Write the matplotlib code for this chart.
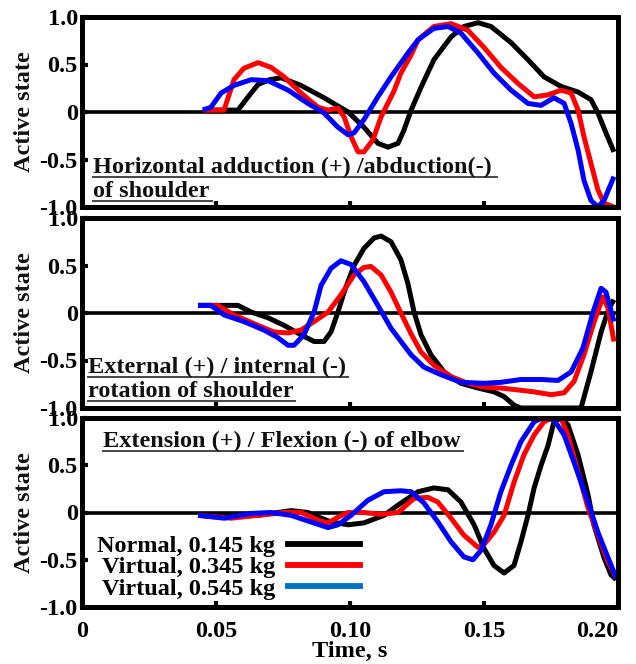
import matplotlib

matplotlib.use("Agg")
import matplotlib.pyplot as plt
from matplotlib.lines import Line2D

# ---- data (time in s, active state) ----
# shoulder horizontal adduction / abduction
hor_t_normal = [0.0451, 0.0582, 0.0620, 0.0657, 0.0700, 0.0743, 0.0817, 0.0903, 0.0993, 0.1052,
                0.1104, 0.1142, 0.1179, 0.1200, 0.1228, 0.1265, 0.1313, 0.1377, 0.1425, 0.1478,
                0.1526, 0.1601, 0.1664, 0.1724, 0.1787, 0.1851, 0.1899, 0.1925, 0.1955, 0.1985]
hor_v_normal = [0.02, 0.02, 0.16, 0.29, 0.34, 0.36, 0.28, 0.15, 0.0, -0.16,
                -0.33, -0.37, -0.33, -0.20, 0.02, 0.26, 0.55, 0.79, 0.90, 0.94,
                0.90, 0.73, 0.55, 0.37, 0.27, 0.21, 0.13, -0.01, -0.22, -0.42]
hor_t_v345 = [0.0451, 0.0530, 0.0567, 0.0604, 0.0657, 0.0705, 0.0754, 0.0817, 0.0881, 0.0918,
              0.0955, 0.0978, 0.1004, 0.1030, 0.1052, 0.1086, 0.1116, 0.1164, 0.1190, 0.1228,
              0.1254, 0.1313, 0.1377, 0.1440, 0.1500, 0.1563, 0.1627, 0.1687, 0.1739, 0.1787,
              0.1825, 0.1851, 0.1873, 0.1899, 0.1925, 0.1948, 0.1985]
hor_v_v345 = [0.02, 0.02, 0.34, 0.46, 0.52, 0.47, 0.37, 0.20, 0.05, 0.02,
              0.04, -0.05, -0.26, -0.42, -0.42, -0.29, -0.05, 0.22, 0.41, 0.60,
              0.76, 0.90, 0.93, 0.86, 0.68, 0.47, 0.30, 0.16, 0.18, 0.23,
              0.20, 0.02, -0.26, -0.54, -0.82, -0.96, -1.0]
hor_t_v545 = [0.0451, 0.0481, 0.0519, 0.0567, 0.0631, 0.0694, 0.0769, 0.0843, 0.0903, 0.0955,
              0.0993, 0.1015, 0.1052, 0.1104, 0.1153, 0.1216, 0.1254, 0.1313, 0.1366, 0.1414,
              0.1478, 0.1537, 0.1601, 0.1664, 0.1713, 0.1761, 0.1799, 0.1825, 0.1851, 0.1873,
              0.1899, 0.1925, 0.1948, 0.1985]
hor_v_v545 = [0.02, 0.05, 0.20, 0.28, 0.34, 0.33, 0.23, 0.09, -0.01, -0.16,
              -0.24, -0.22, -0.08, 0.16, 0.37, 0.62, 0.76, 0.88, 0.90, 0.83,
              0.62, 0.41, 0.23, 0.09, 0.07, 0.15, 0.09, -0.12, -0.40, -0.72,
              -0.93, -1.0, -0.93, -0.68]

# shoulder external / internal rotation
rot_t_normal = [0.0433, 0.0582, 0.0631, 0.0694, 0.0754, 0.0817, 0.0866, 0.0903, 0.0929, 0.0955,
                0.0978, 0.1015, 0.1052, 0.1090, 0.1116, 0.1153, 0.1190, 0.1216, 0.1239, 0.1265,
                0.1302, 0.1351, 0.1414, 0.1478, 0.1537, 0.1575, 0.1612, 0.1638, 0.1862, 0.1899,
                0.1937, 0.1966, 0.1985]
rot_v_normal = [0.08, 0.08, 0.01, -0.05, -0.13, -0.23, -0.30, -0.30, -0.20, 0.01,
                0.22, 0.50, 0.68, 0.79, 0.81, 0.75, 0.56, 0.31, 0.01, -0.23,
                -0.44, -0.62, -0.74, -0.79, -0.83, -0.88, -0.97, -1.0, -1.0, -0.62,
                -0.20, 0.05, 0.14]
rot_t_v345 = [0.0433, 0.0507, 0.0567, 0.0657, 0.0716, 0.0769, 0.0817, 0.0866, 0.0918, 0.0966,
              0.1015, 0.1052, 0.1078, 0.1116, 0.1153, 0.1190, 0.1228, 0.1265, 0.1313, 0.1377,
              0.1440, 0.1500, 0.1563, 0.1627, 0.1687, 0.1750, 0.1799, 0.1836, 0.1873, 0.1910,
              0.1944, 0.1963, 0.1985]
rot_v_v345 = [0.08, 0.08, -0.02, -0.13, -0.20, -0.21, -0.18, -0.09, 0.01, 0.19,
              0.40, 0.48, 0.49, 0.40, 0.22, 0.0, -0.22, -0.41, -0.55, -0.67,
              -0.74, -0.78, -0.79, -0.81, -0.83, -0.86, -0.84, -0.72, -0.44, -0.10,
              0.17, 0.05, -0.30]
rot_t_v545 = [0.0433, 0.0481, 0.0530, 0.0604, 0.0679, 0.0731, 0.0769, 0.0791, 0.0828, 0.0866,
              0.0892, 0.0929, 0.0966, 0.1004, 0.1052, 0.1104, 0.1153, 0.1201, 0.1228, 0.1276,
              0.1340, 0.1414, 0.1500, 0.1563, 0.1638, 0.1713, 0.1776, 0.1825, 0.1869, 0.1907,
              0.1937, 0.1955, 0.1985]
rot_v_v545 = [0.08, 0.08, -0.02, -0.09, -0.18, -0.26, -0.34, -0.34, -0.23, 0.01,
              0.29, 0.47, 0.55, 0.51, 0.33, 0.08, -0.16, -0.34, -0.44, -0.57,
              -0.65, -0.73, -0.74, -0.73, -0.70, -0.70, -0.71, -0.62, -0.37, 0.01,
              0.26, 0.22, -0.09]

# elbow extension / flexion
elb_t_normal = [0.0433, 0.0530, 0.0657, 0.0780, 0.0843, 0.0892, 0.0929, 0.0993, 0.1052, 0.1127,
                0.1190, 0.1254, 0.1313, 0.1366, 0.1414, 0.1463, 0.1500, 0.1537, 0.1575, 0.1612,
                0.1638, 0.1664, 0.1687, 0.1713, 0.1739, 0.1761, 0.1787, 0.1813, 0.1851, 0.1888,
                0.1910, 0.1948, 0.1974, 0.1993]
elb_v_normal = [-0.03, -0.04, -0.03, 0.02, 0.0, -0.06, -0.10, -0.13, -0.11, -0.03,
                0.10, 0.22, 0.26, 0.24, 0.11, -0.13, -0.38, -0.56, -0.64, -0.56,
                -0.31, -0.03, 0.26, 0.50, 0.71, 0.96, 1.0, 0.93, 0.61, 0.19,
                -0.13, -0.48, -0.66, -0.71]
elb_t_v345 = [0.0433, 0.0556, 0.0657, 0.0754, 0.0817, 0.0881, 0.0918, 0.0955, 0.0993, 0.1052,
              0.1116, 0.1179, 0.1239, 0.1291, 0.1328, 0.1377, 0.1425, 0.1478, 0.1500, 0.1537,
              0.1575, 0.1612, 0.1649, 0.1687, 0.1724, 0.1761, 0.1787, 0.1813, 0.1851, 0.1888,
              0.1925, 0.1963, 0.1993]
elb_v_v345 = [-0.03, -0.06, -0.03, 0.0, 0.0, -0.08, -0.11, -0.05, 0.0, 0.0,
              -0.02, 0.0, 0.15, 0.16, 0.11, -0.06, -0.24, -0.37, -0.34, -0.21,
              -0.03, 0.32, 0.61, 0.82, 0.96, 1.01, 1.0, 0.82, 0.43, 0.05,
              -0.24, -0.52, -0.69]
elb_t_v545 = [0.0433, 0.0530, 0.0631, 0.0705, 0.0780, 0.0854, 0.0918, 0.0955, 0.1004, 0.1067,
              0.1127, 0.1190, 0.1228, 0.1276, 0.1328, 0.1377, 0.1425, 0.1459, 0.1489, 0.1526,
              0.1563, 0.1601, 0.1638, 0.1687, 0.1724, 0.1761, 0.1799, 0.1836, 0.1888, 0.1925,
              0.1963, 0.1993]
elb_v_v545 = [-0.03, -0.06, -0.01, 0.0, -0.03, -0.10, -0.16, -0.13, -0.03, 0.13,
              0.22, 0.23, 0.22, 0.10, -0.10, -0.31, -0.47, -0.50, -0.40, -0.13,
              0.22, 0.50, 0.75, 0.96, 1.01, 0.98, 0.82, 0.53, 0.11, -0.21,
              -0.48, -0.69]

series_labels = ["Normal, 0.145 kg", "Virtual, 0.345 kg", "Virtual, 0.545 kg"]
y_ticks = [-1.0, -0.5, 0.0, 0.5, 1.0]
y_tick_labels = ["-1.0", "-0.5", "0", "0.5", "1.0"]
x_ticks = [0.0, 0.05, 0.10, 0.15, 0.20]
x_tick_labels = ["0", "0.05", "0.10", "0.15", "0.20"]

# ---- style ----
W, H = 636, 664
FONT = "Liberation Serif"
FS = 17.5
COLORS = ["#000000", "#ff0000", "#0000ff"]
LEGEND_COLORS = ["#000000", "#ff0000", "#0070c0"]

plt.rcParams["font.family"] = FONT
plt.rcParams["font.weight"] = "bold"


def fx(px):
    return px / W


def fy(py):
    return 1 - py / H


def underlined(fig, x, y, s, extra=4):
    t = fig.text(fx(x), fy(y), s, ha="left", va="baseline", fontsize=FS, fontweight="bold", color="#111111")
    bb = t.get_window_extent(renderer=fig.canvas.get_renderer())
    yl = fy(y + 4)
    fig.add_artist(Line2D([bb.x0 / W, (bb.x1 + extra) / W], [yl, yl], transform=fig.transFigure,
                          color="#444444", lw=1.4))


fig = plt.figure(figsize=(W / 100, H / 100), dpi=100)

panels = [
    (17, 207, [(hor_t_normal, hor_v_normal), (hor_t_v345, hor_v_v345), (hor_t_v545, hor_v_v545)]),
    (218, 408, [(rot_t_normal, rot_v_normal), (rot_t_v345, rot_v_v345), (rot_t_v545, rot_v_v545)]),
    (418, 607, [(elb_t_normal, elb_v_normal), (elb_t_v345, elb_v_v345), (elb_t_v545, elb_v_v545)]),
]

axes = []
for i, (top, bottom, series) in enumerate(panels):
    ax = fig.add_axes([fx(82), fy(bottom), fx(618) - fx(82), (bottom - top) / H])
    ax.axhline(0, color="black", lw=2.6, zorder=1)
    for (t, v), c in zip(series, COLORS):
        ax.plot(t, v, color=c, lw=3.6, solid_joinstyle="round", solid_capstyle="butt", zorder=2)
    ax.set_xlim(0, 0.2)
    ax.set_ylim(-1, 1)
    ax.set_yticks(y_ticks)
    ax.set_yticklabels(y_tick_labels)
    ax.set_xticks(x_ticks)
    if i == 2:
        labels = ax.set_xticklabels(x_tick_labels)
        labels[-1].set_horizontalalignment("right")
        labels[-1].set_x(0.2035)
    else:
        ax.set_xticklabels([])
    ax.tick_params(direction="in", length=4, width=3, labelsize=FS, pad=3, colors="black")
    ax.tick_params(axis="x", pad=10)
    for sp in ax.spines.values():
        sp.set_linewidth(3.6)
        sp.set_zorder(3)
    axes.append(ax)
    fig.text(fx(25), fy((top + bottom) / 2), "Active state", rotation=90, ha="center", va="center",
             fontsize=FS, fontweight="bold", color="#111111")

axes[2].set_xlabel("Time, s", fontsize=FS, fontweight="bold", labelpad=-1)

# panel captions
underlined(fig, 93, 173, "Horizontal adduction (+) /abduction(-)", extra=5)
underlined(fig, 93, 197, "of shoulder", extra=3)
underlined(fig, 88, 373, "External (+) / internal (-)", extra=2)
underlined(fig, 88, 397, "rotation of shoulder", extra=1)
underlined(fig, 103, 447, "Extension (+) / Flexion (-) of elbow", extra=2)

handles = [Line2D([], [], color=c, lw=4.2) for c in LEGEND_COLORS]
axes[2].legend(handles, series_labels, loc="upper left", bbox_to_anchor=(fx(97), fy(535)),
               bbox_transform=fig.transFigure, frameon=False, markerfirst=False,
               prop={"family": FONT, "weight": "bold", "size": FS},
               handlelength=2.95, handletextpad=0.55, labelspacing=-0.03,
               borderpad=0, borderaxespad=0)

fig.savefig("out.png", dpi=100)
